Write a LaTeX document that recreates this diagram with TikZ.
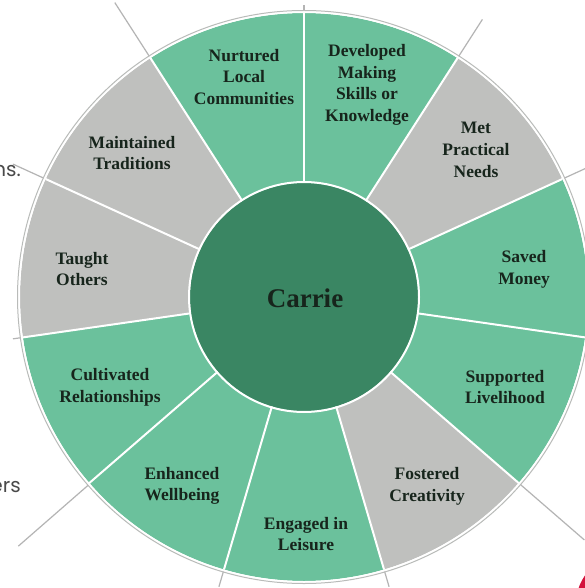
\documentclass[tikz,border=0pt]{standalone}
\usepackage{fontspec}
\setmainfont{Liberation Serif}
\newfontfamily\sidefont{Poppins}
\definecolor{ringgreen}{HTML}{6BC19C}
\definecolor{ringgray}{HTML}{BFC0BE}
\definecolor{hubgreen}{HTML}{3A8663}
\definecolor{rimgray}{HTML}{B9BBB9}
\definecolor{extgray}{HTML}{B4B4B4}
\definecolor{textdark}{HTML}{17251C}
\definecolor{sidegray}{HTML}{4A4A4A}
\definecolor{accentred}{HTML}{D3123C}
\tikzset{
  lbl/.style={align=center, font=\fontsize{17.5}{21.7}\selectfont\bfseries, text=textdark, inner sep=0pt},
  hublbl/.style={font=\fontsize{27}{30}\selectfont\bfseries, text=textdark, inner sep=0pt},
  sidetxt/.style={font=\sidefont\fontsize{20}{24}\selectfont, text=sidegray, inner sep=0pt},
  sep/.style={white, line width=2pt},
  ext/.style={extgray, line width=1.2pt}
}
\begin{document}
\begin{tikzpicture}[x=1pt,y=-1pt]
\useasboundingbox (0,0) rectangle (585,588);
\clip (0,0) rectangle (585,588);
\fill[white] (0,0) rectangle (585,588);
\begin{scope}[shift={(304,297)},yscale=-1]
  % extension lines
  \foreach \a/\r in {122.727/350, 155.455/320, 57.273/330, 24.545/309, -40.909/371, 188.182/294, 221.091/379, -106.364/302, -73.636/302, 90/292}
    \draw[ext] (\a:285) -- (\a:\r);
  % wedges
  \foreach \i/\col in {0/ringgreen,1/ringgray,2/ringgreen,3/ringgreen,4/ringgray,5/ringgreen,6/ringgreen,7/ringgreen,8/ringgray,9/ringgray,10/ringgreen}{
    \pgfmathsetmacro{\s}{90-32.72727*(\i+1)}
    \pgfmathsetmacro{\e}{90-32.72727*\i}
    \fill[\col] (0,0) -- (\s:284) arc[start angle=\s, end angle=\e, radius=284] -- cycle;
  }
  \foreach \i in {0,...,10}{
    \pgfmathsetmacro{\s}{90-32.72727*\i}
    \draw[sep] (0,0) -- (\s:284);
  }
  \draw[white, line width=2pt] (0,0) circle[radius=285];
  \draw[rimgray, line width=1pt] (0,0) circle[radius=286.5];
  \fill[hubgreen] (0,0) circle[radius=114];
  \draw[white, line width=2pt] (0,0) circle[radius=115];
\end{scope}
\fill[accentred] (626,604) circle[radius=50];
\node[hublbl] (hub) at (305,298) {Carrie};
\node[lbl] (nurtured) at (244,77) {Nurtured\\Local\\Communities};
\node[lbl] (developed) at (367,85) {Developed\\Making\\Skills or\\Knowledge};
\node[lbl] (met) at (476,150) {Met\\Practical\\Needs};
\node[lbl] (saved) at (524,269) {Saved\\Money};
\node[lbl] (supported) at (505,387) {Supported\\Livelihood};
\node[lbl] (fostered) at (427,486) {Fostered\\Creativity};
\node[lbl] (engaged) at (306,534) {Engaged in\\Leisure};
\node[lbl] (enhanced) at (182,486) {Enhanced\\Wellbeing};
\node[lbl] (cultivated) at (110,387) {Cultivated\\Relationships};
\node[lbl] (taught) at (82,269) {Taught\\Others};
\node[lbl] (maintained) at (132,153) {Maintained\\Traditions};
\node[sidetxt, anchor=base east] (sideA) at (21,176) {ns.};
\node[sidetxt, anchor=base east] (sideB) at (21,492) {ers};
\end{tikzpicture}
\end{document}
